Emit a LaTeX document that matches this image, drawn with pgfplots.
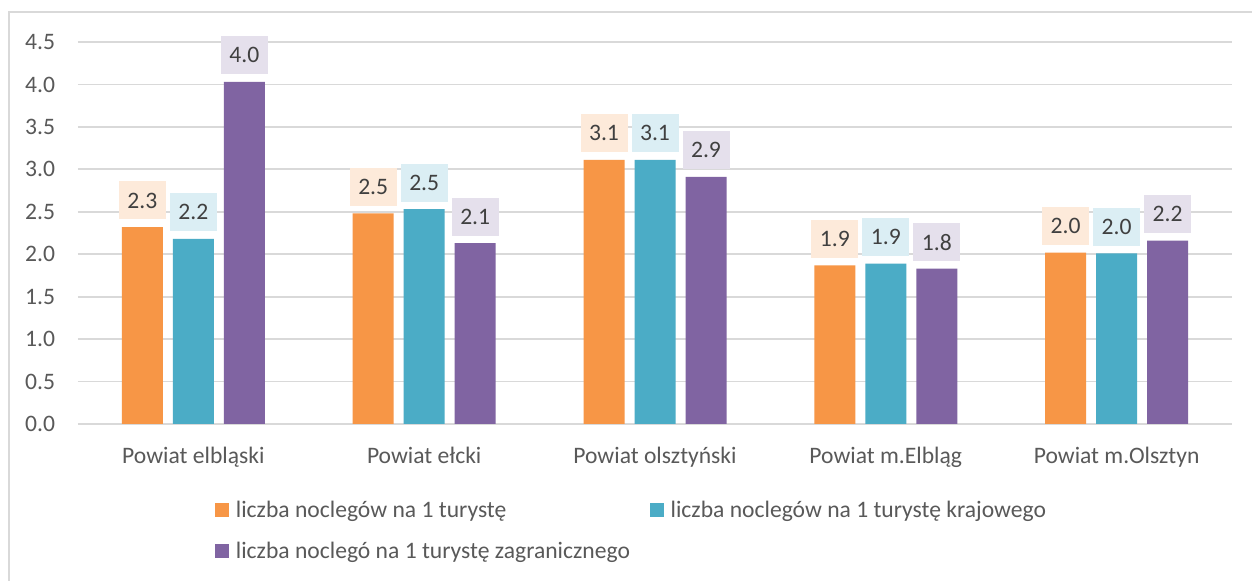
\documentclass[border=0pt]{standalone}
\usepackage{pgfplots}
\pgfplotsset{compat=1.18}
\usepackage{fontspec}
\setmainfont{Carlito}
\definecolor{c1}{HTML}{F79646}
\definecolor{c2}{HTML}{4BACC6}
\definecolor{c3}{HTML}{8064A2}
\definecolor{l1}{HTML}{FDEADA}
\definecolor{l2}{HTML}{DBEEF4}
\definecolor{l3}{HTML}{E5E0EC}
\definecolor{gridgray}{HTML}{D9D9D9}
\definecolor{textgray}{HTML}{595959}
\definecolor{labelgray}{HTML}{404040}
\newcommand\ff{\fontsize{17.7}{21}\selectfont}
\pgfplotstableread{
x a b c
0 2.32 2.18 4.03
1 2.48 2.53 2.13
2 3.11 3.11 2.91
3 1.87 1.89 1.83
4 2.02 2.01 2.16
}\datatable
\begin{document}
\begin{tikzpicture}
\useasboundingbox (0,0) rectangle (939pt,435.75pt);
\fill[white] (0,0) rectangle (939pt,435.75pt);
\draw[gridgray, line width=1.5pt] (6.75pt,-10pt) |- (960pt,426.75pt);
\begin{axis}[
  at={(58.5pt,117.75pt)}, anchor=south west,
  width=865.5pt, height=286.5pt, scale only axis,
  ybar=7.5pt, bar width=30.75pt,
  xmin=-0.5, xmax=4.5, ymin=0, ymax=4.5,
  axis line style={draw=none},
  major tick style={draw=none},
  ymajorgrids, grid style={gridgray, line width=1.4pt},
  ytick={0,0.5,1,1.5,2,2.5,3,3.5,4,4.5},
  xtick={0,1,2,3,4},
  xticklabels={Powiat elbląski, Powiat ełcki, Powiat olsztyński, Powiat m.Elbląg, Powiat m.Olsztyn},
  /pgf/number format/assume math mode=true,
  yticklabel={\pgfmathprintnumber[fixed,fixed zerofill,precision=1]{\tick}},
  yticklabel style={anchor=east, inner sep=0pt, xshift=-17pt, text=textgray, font=\ff},
  xticklabel style={anchor=north, inner sep=0pt, yshift=-13pt, text=textgray, font=\ff},
  nodes near coords,
  nodes near coords={\pgfmathprintnumber[fixed,fixed zerofill,precision=1,assume math mode=true]{\pgfplotspointmeta}},
  every node near coord/.append style={anchor=south, yshift=5.5pt, minimum width=35.25pt, minimum height=28.5pt, inner sep=0pt, text=labelgray, font=\ff},
  legend columns=2,
  legend cell align=left,
  legend image code/.code={\fill[#1] (0pt,-5pt) rectangle (10.5pt,5pt);},
  legend style={draw=none, fill=none, inner sep=0pt, at={(0.1187,-0.193)}, anchor=north west,
    font=\ff, text=textgray,
    /tikz/every odd column/.append style={column sep=3pt},
    /tikz/every even column/.append style={column sep=13pt},
    row sep=13pt},
]
\addplot+[fill=c1, draw=none, every node near coord/.append style={fill=l1}] table[x=x,y=a] {\datatable};
\addplot+[fill=c2, draw=none, every node near coord/.append style={fill=l2}] table[x=x,y=b] {\datatable};
\addplot+[fill=c3, draw=none, every node near coord/.append style={fill=l3}] table[x=x,y=c] {\datatable};
\legend{liczba noclegów na 1 turystę, liczba noclegów na 1 turystę krajowego, liczba noclegó na 1 turystę zagranicznego}
\end{axis}
\end{tikzpicture}
\end{document}
